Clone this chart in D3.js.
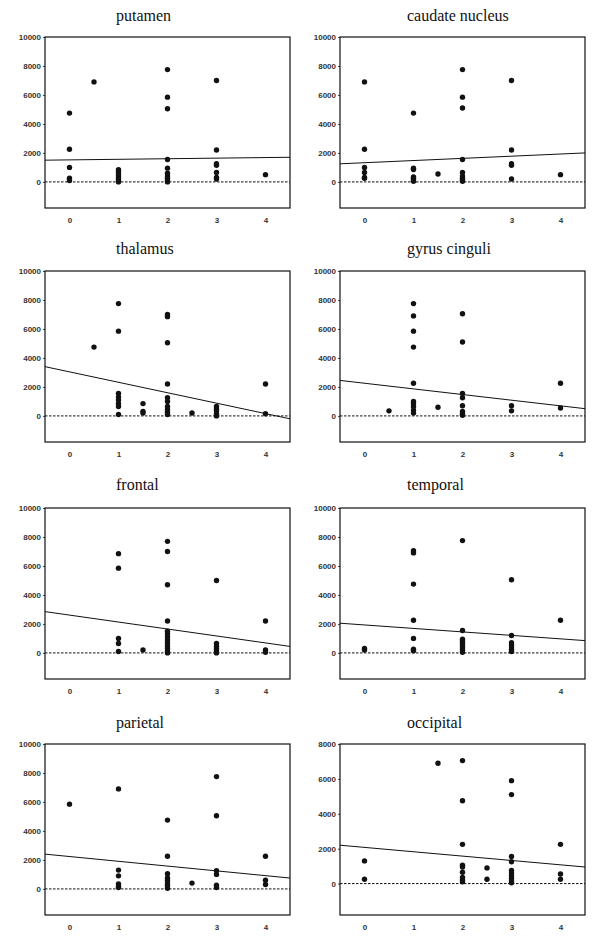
<!DOCTYPE html>
<html>
<head>
<meta charset="utf-8">
<style>
  body { margin: 0; background: #fff; }
  svg { display: block; }
  .tick text { font-family: "Liberation Sans", Arial, sans-serif; font-size: 8px; font-weight: bold; fill: #333; }
  .title { font-family: "Liberation Serif", "Times New Roman", serif; font-size: 16px; fill: #111; }
</style>
</head>
<body>
<svg width="600" height="943"></svg>
<script src="https://d3js.org/d3.v7.min.js"></script>
<script>
// panel titles, in reading order
var regions = ["putamen", "caudate nucleus", "thalamus", "gyrus cinguli",
               "frontal", "temporal", "parietal", "occipital"];

// points per region: [x, value]
var putamen = [[0,4750],[0,2250],[0,1000],[0,250],[0,100],[0.5,6900],
  [1,850],[1,700],[1,550],[1,400],[1,250],[1,100],[1,0],
  [2,7750],[2,5850],[2,5050],[2,1550],[2,950],[2,600],[2,400],[2,250],[2,100],[2,0],
  [3,7000],[3,2200],[3,1250],[3,1150],[3,650],[3,300],[3,200],[4,500]];
var caudate = [[0,6900],[0,2250],[0,1000],[0,650],[0,300],[0,250],
  [1,4750],[1,950],[1,850],[1,350],[1,250],[1,150],[1,50],[1.5,550],
  [2,7750],[2,5850],[2,5100],[2,1550],[2,650],[2,400],[2,250],[2,150],[2,50],
  [3,7000],[3,2200],[3,1250],[3,1150],[3,200],[4,500]];
var thalamus = [[0.5,4750],
  [1,7750],[1,5850],[1,1550],[1,1300],[1,1100],[1,850],[1,650],[1,100],
  [1.5,850],[1.5,300],[1.5,200],
  [2,7000],[2,6850],[2,5050],[2,2200],[2,1250],[2,1000],[2,650],[2,450],[2,250],[2,100],
  [2.5,200],[3,650],[3,500],[3,350],[3,150],[3,0],[4,2200],[4,150]];
var cinguli = [[0.5,350],
  [1,7750],[1,6900],[1,5850],[1,4750],[1,2250],[1,1000],[1,850],[1,650],[1,400],[1,200],
  [1.5,600],
  [2,7050],[2,5100],[2,1550],[2,1250],[2,700],[2,300],[2,150],[2,50],
  [3,700],[3,350],[4,2250],[4,550]];
var frontal = [[1,6850],[1,5850],[1,1000],[1,650],[1,100],[1.5,200],
  [2,7700],[2,7000],[2,4700],[2,2200],[2,1500],[2,1300],[2,1100],[2,900],[2,700],[2,500],[2,300],[2,100],[2,0],
  [3,5000],[3,650],[3,450],[3,300],[3,150],[3,0],[4,2200],[4,200],[4,50]];
var temporal = [[0,300],[0,200],
  [1,7050],[1,6900],[1,4750],[1,2250],[1,1000],[1,250],[1,150],
  [2,7750],[2,1550],[2,950],[2,800],[2,650],[2,500],[2,350],[2,200],[2,50],
  [3,5050],[3,1200],[3,700],[3,550],[3,400],[3,250],[3,100],[4,2250]];
var parietal = [[0,5850],
  [1,6900],[1,1300],[1,900],[1,350],[1,200],[1,100],
  [2,4750],[2,2250],[2,1050],[2,750],[2,600],[2,400],[2,250],[2,50],
  [2.5,400],[3,7750],[3,5050],[3,1250],[3,1000],[3,250],[3,100],
  [4,2250],[4,600],[4,300]];
var occipital = [[0,1300],[0,250],[1.5,6900],
  [2,7050],[2,4750],[2,2250],[2,1050],[2,950],[2,650],[2,350],[2,200],[2,100],
  [2.5,900],[2.5,250],
  [3,5900],[3,5100],[3,1550],[3,1250],[3,750],[3,600],[3,450],[3,300],[3,150],[3,50],
  [4,2250],[4,550],[4,250]];
var points = [putamen, caudate, thalamus, cinguli, frontal, temporal, parietal, occipital];

// fitted line values at x = -0.5 and x = 4.5
var fitStart = [1500, 1250, 3400, 2450, 2850, 2050, 2400, 2200];
var fitEnd   = [1700, 2000, -200, 500, 450, 850, 750, 950];

// top of the value axis
var yTop = [10000, 10000, 10000, 10000, 10000, 10000, 10000, 8000];
var yBottom = -1800;
var xTicks = [0, 1, 2, 3, 4];
var xDomain = [-0.5, 4.5];

var svg = d3.select("svg");
var colLeft = [45, 340], rowTop = [37, 271, 508, 744];
var titleLeft = [116, 407], titleBase = [21, 254, 490, 728];
var w = 245, h = 171;

regions.forEach(function(name, i) {
  var col = i % 2, row = Math.floor(i / 2);
  var g = svg.append("g")
    .attr("transform", "translate(" + colLeft[col] + "," + rowTop[row] + ")");

  var x = d3.scaleLinear().domain(xDomain).range([0, w]);
  var y = d3.scaleLinear().domain([yBottom, yTop[i]]).range([h, 0]);

  svg.append("text").attr("class", "title")
    .attr("x", titleLeft[col]).attr("y", titleBase[row])
    .text(name);

  g.append("g").attr("transform", "translate(0," + h + ")")
    .call(d3.axisBottom(x).tickValues(xTicks).tickSize(0).tickPadding(9).tickFormat(d3.format("d")))
    .call(function(a) { a.select(".domain").remove(); });

  g.append("g")
    .call(d3.axisLeft(y).tickValues(d3.range(0, yTop[i] + 1, 2000)).tickSize(2).tickPadding(2).tickFormat(d3.format("d")))
    .call(function(a) { a.select(".domain").remove(); a.selectAll("line").attr("stroke", "#444"); });

  g.append("rect")
    .attr("width", w).attr("height", h)
    .attr("fill", "none").attr("stroke", "#111").attr("stroke-width", 1.2);

  g.append("line")
    .attr("x1", x(xDomain[0])).attr("x2", x(xDomain[1]))
    .attr("y1", y(0)).attr("y2", y(0))
    .attr("stroke", "#111").attr("stroke-width", 1).attr("stroke-dasharray", "2.5,1.5");

  g.append("line")
    .attr("x1", x(xDomain[0])).attr("x2", x(xDomain[1]))
    .attr("y1", y(fitStart[i])).attr("y2", y(fitEnd[i]))
    .attr("stroke", "#111").attr("stroke-width", 1);

  g.selectAll("circle").data(points[i]).enter().append("circle")
    .attr("cx", function(d) { return x(d[0]); })
    .attr("cy", function(d) { return y(d[1]); })
    .attr("r", 2.7)
    .attr("fill", "#111");
});
</script>
</body>
</html>
